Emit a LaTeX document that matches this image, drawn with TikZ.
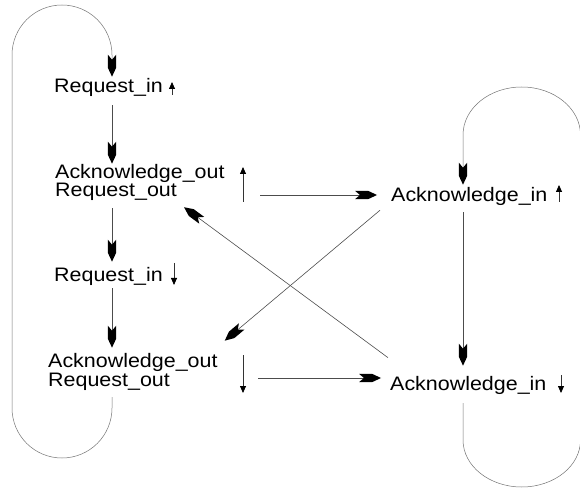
\documentclass[tikz,border=0pt]{standalone}
\usepackage{fontspec}
\setmainfont{Liberation Sans}[FakeStretch=1.1]
\usetikzlibrary{arrows.meta,calc}
% notched dart head: parallel sides, short taper to the tip
\pgfdeclarearrow{
  name=Dart,
  setup code={
    \pgfarrowssettipend{0pt}
    \pgfarrowssetbackend{-22pt}
    \pgfarrowssetlineend{-12pt}
    \pgfarrowssetvisualbackend{-17pt}
    \pgfarrowsupperhullpoint{-22pt}{4.2pt}
    \pgfarrowsupperhullpoint{0pt}{0pt}
  },
  drawing code={
    \pgfpathmoveto{\pgfqpoint{0pt}{0pt}}
    \pgfpathlineto{\pgfqpoint{-9pt}{4.2pt}}
    \pgfpathlineto{\pgfqpoint{-22pt}{4.2pt}}
    \pgfpathlineto{\pgfqpoint{-17pt}{0pt}}
    \pgfpathlineto{\pgfqpoint{-22pt}{-4.2pt}}
    \pgfpathlineto{\pgfqpoint{-9pt}{-4.2pt}}
    \pgfpathclose
    \pgfsetfillcolor{black}
    \pgfusepathqfill
  }
}
\begin{document}
\begin{tikzpicture}[x=1pt,y=1pt,
  lbl/.style={anchor=base west, inner sep=0pt, font=\fontsize{19.5}{19.5}\selectfont},
  conn/.style={draw=black!70, line width=0.6pt, -Dart},
  loopline/.style={draw=black!55, line width=0.5pt, -Dart},
  sig/.style={draw=black!80, line width=0.8pt, -{Triangle[length=7pt,width=6pt,color=black]}}]
\useasboundingbox (0,0) rectangle (580,490);

% states of the request side
\node[lbl] (rinU) at (54,397) {Request\_in};
\node[lbl] (aoU)  at (55,311) {Acknowledge\_out};
\node[lbl] (roU)  at (55,293) {Request\_out};
\node[lbl] (rinD) at (54,208) {Request\_in};
\node[lbl] (aoD)  at (48,123) {Acknowledge\_out};
\node[lbl] (roD)  at (48,104) {Request\_out};
% states of the acknowledge side
\node[lbl] (ainU) at (391,288) {Acknowledge\_in};
\node[lbl] (ainD) at (390,100) {Acknowledge\_in};

% signal edges
\draw[sig] (172,395) -- (172,408);
\draw[sig] (243,288) -- (243,323);
\draw[sig] (174,227) -- (174,205);
\draw[sig] (243,135) -- (243,97);
\draw[sig] (559,288) -- (559,305);
\draw[sig] (561,115) -- (561,97);

% columns of the two chains
\coordinate (cL) at (112,0);
\coordinate (cR) at (463,0);

% left chain
\draw[conn] ([yshift=-8pt]rinU.south -| cL) -- ([yshift=1pt]aoU.north -| cL);
\draw[conn] ([yshift=-7pt]roU.south -| cL) -- ([yshift=6pt]rinD.north -| cL);
\draw[conn] ([yshift=-2pt]rinD.south -| cL) -- ([yshift=5pt]aoD.north -| cL);
\draw[loopline] ([yshift=-7pt]roD.south -| cL) -- (112,82)
  arc[start angle=0, end angle=-180, radius=50] -- (12,435)
  arc[start angle=180, end angle=0, radius=50] -- ([yshift=2pt]rinU.north -| cL);

% right chain
\draw[conn] ([yshift=-6pt]ainU.south -| cR) -- ([yshift=10pt]ainD.north -| cR);
\draw[loopline] ([yshift=-9pt]ainD.south -| cR) -- (463,50)
  arc[start angle=180, end angle=360, x radius=58.75, y radius=47] -- (580.5,355)
  arc[start angle=0, end angle=180, x radius=58.75, y radius=48] -- ([yshift=3pt]ainU.north -| cR);

% handshake between the sides
\coordinate (hU) at (260,295);
\coordinate (hD) at (258,112);
\draw[conn, shorten >=14pt] (hU) -- (hU -| ainU.west);
\draw[conn, shorten >=9pt] (hD) -- (hD -| ainD.west);
\draw[conn] ([shift={(-11,-4)}]ainU.south west) -- ([shift={(7,12)}]aoD.north east);
\draw[conn] ([shift={(-2,18)}]ainD.north west) -- ([shift={(7,-6)}]roU.south east);
\end{tikzpicture}
\end{document}
